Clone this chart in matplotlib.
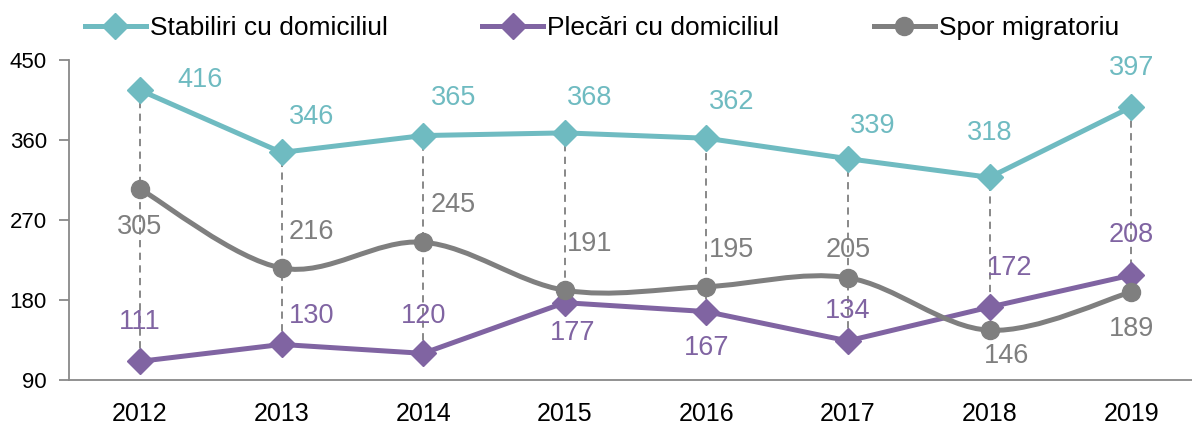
import matplotlib

matplotlib.use("Agg")
import matplotlib.pyplot as plt
import numpy as np
from matplotlib.lines import Line2D
from matplotlib.patches import PathPatch
from matplotlib.path import Path

plt.rcParams["font.family"] = ["Liberation Sans", "DejaVu Sans"]

years = ["2012", "2013", "2014", "2015", "2016", "2017", "2018", "2019"]
stabiliri = [416, 346, 365, 368, 362, 339, 318, 397]
plecari = [111, 130, 120, 177, 167, 134, 172, 208]
spor = [305, 216, 245, 191, 195, 205, 146, 189]

# label offsets in pixels (dx, dy) relative to the marker
off_stab = [(60, 10), (30, 35), (30, 38), (25, 35), (25, 36), (25, 33), (0, 44), (0, 39)]
off_plec = [(0, 39), (30, 28), (0, 37), (8, -30), (0, -36), (0, 30), (20, 39), (0, 40)]
off_spor = [(0, -38), (30, 36), (30, 37), (25, 46), (25, 37), (0, 28), (17, -26), (0, -37)]

TEAL = "#6fbbc1"
PURPLE = "#8064a2"
GRAY = "#7f7f7f"


def smooth_path(x, y, t=1 / 6):
    # Excel-style smoothed line: cubic Bezier through each point
    pts = np.column_stack([x, y]).astype(float)
    verts = [pts[0]]
    codes = [Path.MOVETO]
    n = len(pts)
    for i in range(n - 1):
        p0 = pts[i - 1] if i > 0 else pts[i]
        p1, p2 = pts[i], pts[i + 1]
        p3 = pts[i + 2] if i + 2 < n else pts[i + 1]
        c1 = p1 + (p2 - p0) * t
        c2 = p2 - (p3 - p1) * t
        verts += [c1, c2, p2]
        codes += [Path.CURVE4] * 3
    return Path(verts, codes)


fig = plt.figure(figsize=(11.92, 4.36), dpi=100)
ax = fig.add_axes([0.058, 0.1284, 0.942, 0.734])
x = np.arange(len(years))

# drop lines from the highest to the lowest value at each year
hi = np.max([stabiliri, plecari, spor], axis=0)
lo = np.min([stabiliri, plecari, spor], axis=0)
ax.vlines(x, lo, hi, colors=GRAY, linestyles=(0, (4, 3)), linewidth=1.3, zorder=1)

ax.plot(x, stabiliri, color=TEAL, lw=3.6, marker="D", ms=13, zorder=3)
ax.plot(x, plecari, color=PURPLE, lw=3.6, marker="D", ms=13, zorder=3)
ax.add_patch(PathPatch(smooth_path(x, spor), fill=False, edgecolor=GRAY, lw=3.6, zorder=4))
ax.plot(x, spor, ls="none", color=GRAY, marker="o", ms=13, zorder=5)

for series, offs, col in [(stabiliri, off_stab, TEAL), (plecari, off_plec, PURPLE), (spor, off_spor, GRAY)]:
    for xi, v, (dx, dy) in zip(x, series, offs):
        ax.annotate(str(v), (xi, v), xytext=(dx, dy), textcoords="offset pixels",
                    ha="center", va="center", color=col, fontsize=19.5, zorder=6)

ax.set_xlim(-0.5, 7.43)
ax.set_ylim(90, 450)
ax.set_yticks([90, 180, 270, 360, 450])
ax.set_xticks(x)
ax.set_xticklabels(years)
for side in ("top", "right"):
    ax.spines[side].set_visible(False)
for side in ("left", "bottom"):
    ax.spines[side].set_color("#898989")
    ax.spines[side].set_linewidth(1.3)
ax.tick_params(axis="y", length=7, width=1.3, color="#898989", labelsize=16, pad=9)
ax.tick_params(axis="x", length=0, labelsize=18, pad=16)

handles = [
    Line2D([], [], color=TEAL, lw=3.6, marker="D", ms=13),
    Line2D([], [], color=PURPLE, lw=3.6, marker="D", ms=13),
    Line2D([], [], color=GRAY, lw=3.6, marker="o", ms=13),
]
labels = ["Stabiliri cu domiciliul", "Plecări cu domiciliul", "Spor migratoriu"]
fig.legend(handles, labels, loc="center", bbox_to_anchor=(0.505, 0.935), ncol=3,
           frameon=False, fontsize=19, handlelength=2.3, handletextpad=0.15, columnspacing=3.6)

fig.savefig("out.png", dpi=100)
